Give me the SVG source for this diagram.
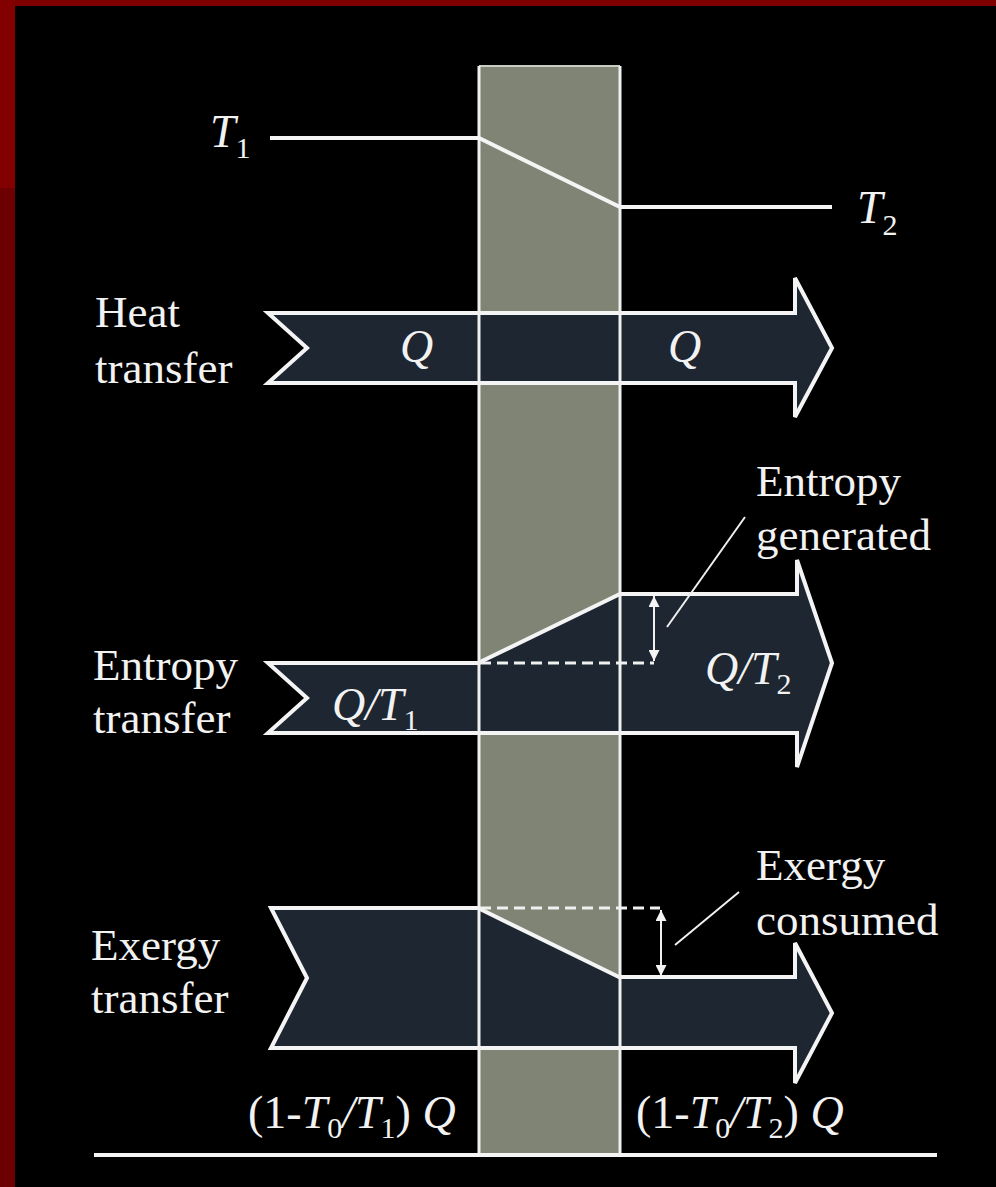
<svg xmlns="http://www.w3.org/2000/svg" width="996" height="1187" viewBox="0 0 996 1187">
  <style>
    .lbl { font-family: "Liberation Serif", "Times New Roman", serif; font-size: 45px; fill: #f2f2f2; }
    .var { font-family: "Liberation Serif", "Times New Roman", serif; font-size: 46px; font-style: italic; fill: #f2f2f2; }
    .sub { font-style: normal; font-size: 30px; }
    .up { font-style: normal; }
    .arrow { fill: #1d2631; stroke: #f4f4f4; stroke-width: 4; stroke-linejoin: miter; }
    .wline { stroke: #f4f4f4; stroke-width: 4; fill: none; }
    .thin { stroke: #f0f0f0; stroke-width: 2; fill: none; }
    .dash { stroke: #f0f0f0; stroke-width: 3; stroke-dasharray: 11 6; fill: none; }
  </style>
  <defs>
    <marker id="ah" viewBox="0 0 10 10" refX="10" refY="5" markerWidth="11" markerHeight="11" markerUnits="userSpaceOnUse" orient="auto-start-reverse">
      <path d="M0,0 L10,5 L0,10 Z" fill="#f4f4f4"/>
    </marker>
  </defs>

  <!-- background and frame -->
  <rect x="0" y="0" width="996" height="1187" fill="#000"/>
  <rect x="0" y="0" width="996" height="6" fill="#7e0000"/>
  <rect x="0" y="0" width="15" height="188" fill="#820000"/>
  <rect x="0" y="188" width="15" height="999" fill="#6c0000"/>

  <!-- wall column -->
  <g id="wall">
    <rect x="479" y="66" width="141" height="1089" fill="#7f8474"/>
    <line x1="479" y1="66" x2="620" y2="66" stroke="#c9ccc0" stroke-width="2"/>
  </g>

  <!-- heat transfer arrow -->
  <g id="heat-arrow">
    <polygon class="arrow" points="268,313 795,313 795,278 832,348 795,417 795,383 268,383 307,348"/>
    <text class="var" x="400" y="362">Q</text>
    <text class="var" x="668" y="362">Q</text>
  </g>

  <!-- entropy transfer arrow -->
  <g id="entropy-arrow">
    <polygon class="arrow" points="268,663 478,663 620,594 797,594 797,560 832,663 797,767 797,733 268,733 307,698"/>
    <text class="var" x="332" y="720">Q/T<tspan class="sub" dy="10">1</tspan></text>
    <text class="var" x="705" y="684">Q/T<tspan class="sub" dy="10">2</tspan></text>
  </g>

  <!-- exergy transfer arrow -->
  <g id="exergy-arrow">
    <polygon class="arrow" points="271,908 478,908 619,977 795,977 795,943 832,1013 795,1083 795,1048 271,1048 307,978"/>
  </g>

  <!-- wall edges (drawn over arrows) -->
  <g id="wall-edges">
    <line x1="479" y1="66" x2="479" y2="1155" stroke="#f0f0f0" stroke-width="3"/>
    <line x1="620" y1="66" x2="620" y2="1155" stroke="#f0f0f0" stroke-width="3"/>
  </g>

  <!-- connectors / profile lines -->
  <g id="connectors">
    <polyline class="wline" points="270,138 479,138 620,207 832,207"/>
    <path class="dash" d="M480,663 H654"/>
    <line class="thin" x1="654" y1="661" x2="654" y2="596" marker-start="url(#ah)" marker-end="url(#ah)"/>
    <line class="thin" x1="667" y1="627" x2="745" y2="517"/>
    <path class="dash" d="M480,908 H660"/>
    <line class="thin" x1="661" y1="910" x2="661" y2="976" marker-start="url(#ah)" marker-end="url(#ah)"/>
    <line class="thin" x1="675" y1="945" x2="739" y2="892"/>
    <line class="wline" x1="94" y1="1155" x2="937" y2="1155"/>
  </g>

  <!-- labels -->
  <g id="label-T1"><text class="var" x="210" y="147">T<tspan class="sub" dy="11">1</tspan></text></g>
  <g id="label-T2"><text class="var" x="857" y="223">T<tspan class="sub" dy="12">2</tspan></text></g>
  <g id="label-heat">
    <text class="lbl" x="95" y="327">Heat</text>
    <text class="lbl" x="95" y="383">transfer</text>
  </g>
  <g id="label-entropy">
    <text class="lbl" x="93" y="680">Entropy</text>
    <text class="lbl" x="93" y="733">transfer</text>
  </g>
  <g id="label-exergy">
    <text class="lbl" x="91" y="960">Exergy</text>
    <text class="lbl" x="91" y="1013">transfer</text>
  </g>
  <g id="label-entropy-generated">
    <text class="lbl" x="756" y="496">Entropy</text>
    <text class="lbl" x="756" y="550">generated</text>
  </g>
  <g id="label-exergy-consumed">
    <text class="lbl" x="756" y="880">Exergy</text>
    <text class="lbl" x="756" y="935">consumed</text>
  </g>
  <g id="label-exergy-in">
    <text class="var" x="248" y="1128"><tspan class="up">(1-</tspan>T<tspan class="sub" dy="10">0</tspan><tspan dy="-10">/T</tspan><tspan class="sub" dy="10">1</tspan><tspan class="up" dy="-10">) </tspan>Q</text>
  </g>
  <g id="label-exergy-out">
    <text class="var" x="636" y="1128"><tspan class="up">(1-</tspan>T<tspan class="sub" dy="10">0</tspan><tspan dy="-10">/T</tspan><tspan class="sub" dy="10">2</tspan><tspan class="up" dy="-10">) </tspan>Q</text>
  </g>
</svg>
